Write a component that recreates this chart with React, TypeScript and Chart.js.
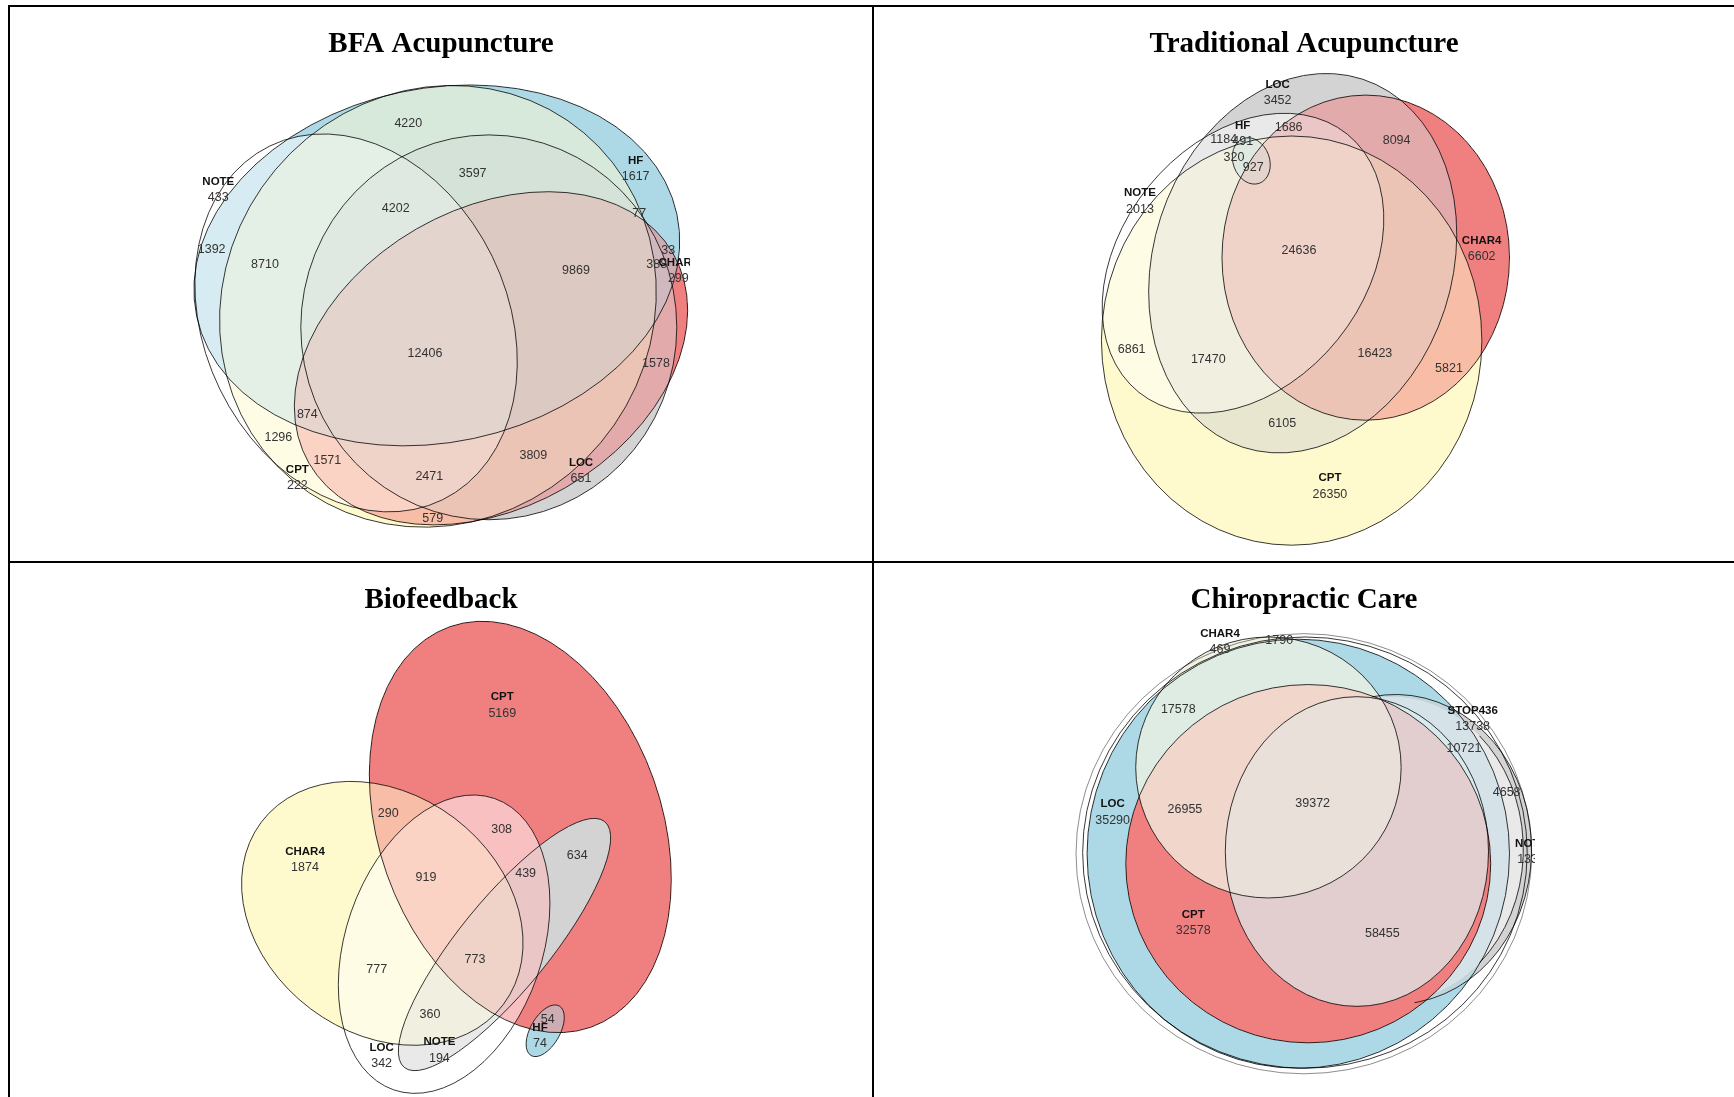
import React, { useEffect, useRef } from "react";
import { Chart, registerables } from "chart.js";
Chart.register(...registerables);

// scale between the measured reference units (1568 wide) and the page (1734 wide)
const K = 1734 / 1568;
const NUM_DY = 14.3;

// ---------------- BFA Acupuncture ----------------
const bfaSetNames = ["NOTE", "HF", "CHAR4", "LOC", "CPT"];
const bfaSetCounts = [433, 1617, 299, 651, 222];
const bfaSetX = [197.4, 574.8, 613.4, 525.4, 268.9];
const bfaSetY = [164.3, 145.3, 238.0, 418.4, 424.4];
const bfaRegionCounts = [4220, 4202, 1392, 8710, 3597, 77, 9869, 33, 388, 12406, 874, 1296, 1571, 2471, 579, 1578, 3809];
const bfaRegionX = [369.2, 357.8, 191.4, 239.6, 427.4, 578.1, 520.8, 604.3, 593.8, 384.3, 277.9, 251.7, 296.0, 388.2, 391.3, 593.2, 482.3];
const bfaRegionY = [111.5, 188.4, 226.0, 239.0, 156.7, 192.9, 244.8, 226.7, 239.6, 319.5, 375.3, 395.5, 416.9, 431.0, 468.7, 329.1, 412.3];

// ---------------- Traditional Acupuncture ----------------
const tradSetNames = ["LOC", "HF", "NOTE", "CHAR4", "CPT"];
const tradSetCounts = [3452, 491, 2013, 6602, 26350];
const tradSetX = [1155.3, 1123.7, 1030.8, 1339.8, 1202.6];
const tradSetY = [76.9, 114.0, 174.8, 217.6, 432.5];
const tradRegionCounts = [1184, 320, 927, 1686, 8094, 24636, 16423, 5821, 6861, 17470, 6105];
const tradRegionX = [1106.6, 1115.8, 1133.3, 1165.3, 1262.9, 1174.6, 1243.3, 1310.3, 1023.3, 1092.6, 1159.5];
const tradRegionY = [126.6, 142.3, 151.3, 115.1, 127.2, 226.7, 319.5, 333.0, 315.9, 324.9, 382.8];

// ---------------- Biofeedback ----------------
const bioSetNames = ["CPT", "CHAR4", "LOC", "NOTE", "HF"];
const bioSetCounts = [5169, 1874, 342, 194, 74];
const bioSetX = [454.2, 275.8, 345.1, 397.3, 488.3];
const bioSetY = [630.5, 770.1, 947.3, 942.5, 929.0];
const bioRegionCounts = [290, 308, 634, 919, 439, 773, 777, 360, 54];
const bioRegionX = [351.1, 453.6, 522.0, 385.2, 475.3, 429.5, 340.6, 388.8, 495.2];
const bioRegionY = [735.4, 749.9, 774.0, 793.6, 790.3, 867.5, 876.5, 917.2, 921.7];

// ---------------- Chiropractic Care ----------------
const chiroSetNames = ["CHAR4", "STOP436", "LOC", "NOTE", "CPT"];
const chiroSetCounts = [469, 13738, 35290, 1330, 32578];
const chiroSetX = [1103.2, 1331.7, 1006.1, 1384.5, 1079.0];
const chiroSetY = [572.7, 642.6, 727.3, 763.2, 827.4];
const chiroRegionCounts = [1790, 17578, 26955, 39372, 10721, 4658, 58455];
const chiroRegionX = [1156.8, 1065.5, 1071.5, 1187.0, 1323.8, 1362.4, 1250.0];
const chiroRegionY = [579.3, 642.0, 731.8, 727.0, 676.7, 716.8, 844.0];

// ---------------- styles ----------------
const BLUE = "#add8e6";
const RED = "#f08080";
const YELLOW = "#fffacd";
const GREY = "#d3d3d3";
const WHITE = "#ffffff";

type Shape = {
  cx: number; cy: number; rx: number; ry: number; rot: number;
  fill: string | null; weight?: number; reset?: boolean; minus?: number[];
  stroke?: string | null; arc?: [number, number];
};

const bfaShapes: Shape[] = [
  { cx: 322, cy: 292, rx: 178, ry: 137, rot: 64, fill: WHITE },
  { cx: 395, cy: 240, rx: 222, ry: 160, rot: -12, fill: BLUE },
  { cx: 444, cy: 324, rx: 190, ry: 135, rot: -30, fill: RED },
  { cx: 442, cy: 296, rx: 170, ry: 174, rot: 0, fill: GREY },
  { cx: 396, cy: 277, rx: 205, ry: 192, rot: -50, fill: YELLOW },
];

const tradShapes: Shape[] = [
  { cx: 1124, cy: 238, rx: 150, ry: 110, rot: -51, fill: WHITE },
  { cx: 1131.5, cy: 145.5, rx: 21.5, ry: 16.5, rot: 70, fill: BLUE },
  { cx: 1235, cy: 233, rx: 130, ry: 147, rot: 0, fill: RED },
  { cx: 1178, cy: 238, rx: 175, ry: 135, rot: -72, fill: GREY },
  { cx: 1168, cy: 308, rx: 172, ry: 185, rot: 0, fill: YELLOW },
];

const bioShapes: Shape[] = [
  { cx: 345.7, cy: 825.9, rx: 137, ry: 108, rot: 37, fill: YELLOW },
  { cx: 470.5, cy: 747.8, rx: 192, ry: 128, rot: 70.6, fill: RED },
  { cx: 401.6, cy: 853.8, rx: 139.4, ry: 89, rot: -70.9, fill: WHITE },
  { cx: 456.2, cy: 854.1, rx: 143.4, ry: 40.8, rot: -50.8, fill: GREY },
  { cx: 493, cy: 932.1, rx: 25.8, ry: 13.4, rot: -60.4, fill: BLUE },
  { cx: 456.2, cy: 854.1, rx: 143.4, ry: 40.8, rot: -50.8, fill: GREY, reset: true, minus: [2], stroke: null },
];

const chiroShapes: Shape[] = [
  { cx: 1179, cy: 772, rx: 206, ry: 199, rot: 0, fill: null, stroke: "rgba(0,0,0,0.45)" },
  { cx: 1180, cy: 771, rx: 201, ry: 195, rot: 0, fill: null },
  { cx: 1174, cy: 772, rx: 191, ry: 194, rot: 0, fill: BLUE, reset: true },
  { cx: 1262, cy: 768, rx: 123, ry: 140, rot: 0, fill: GREY, arc: [-100, 82] },
  { cx: 1258, cy: 768, rx: 119.5, ry: 138, rot: 0, fill: WHITE, arc: [-48, 48] },
  { cx: 1183, cy: 781, rx: 165, ry: 162, rot: 0, fill: RED, reset: true },
  { cx: 1227, cy: 770, rx: 119, ry: 140, rot: 0, fill: "#dbf3f6", weight: 2 },
  { cx: 1147, cy: 694, rx: 120, ry: 118, rot: 0, fill: "#f0f3e4", weight: 3 },
];

type PanelDef = {
  title: string;
  rect: [number, number, number, number];
  clipRight?: number;
  setNames: string[]; setCounts: number[]; setX: number[]; setY: number[];
  regionCounts: number[]; regionX: number[]; regionY: number[];
  shapes: Shape[];
};

const panels: PanelDef[] = [
  { title: "BFA Acupuncture", rect: [10, 7, 862, 554], clipRight: 624,
    setNames: bfaSetNames, setCounts: bfaSetCounts, setX: bfaSetX, setY: bfaSetY,
    regionCounts: bfaRegionCounts, regionX: bfaRegionX, regionY: bfaRegionY, shapes: bfaShapes },
  { title: "Traditional Acupuncture", rect: [874, 7, 860, 554],
    setNames: tradSetNames, setCounts: tradSetCounts, setX: tradSetX, setY: tradSetY,
    regionCounts: tradRegionCounts, regionX: tradRegionX, regionY: tradRegionY, shapes: tradShapes },
  { title: "Biofeedback", rect: [10, 563, 862, 534],
    setNames: bioSetNames, setCounts: bioSetCounts, setX: bioSetX, setY: bioSetY,
    regionCounts: bioRegionCounts, regionX: bioRegionX, regionY: bioRegionY, shapes: bioShapes },
  { title: "Chiropractic Care", rect: [874, 563, 860, 534], clipRight: 1388,
    setNames: chiroSetNames, setCounts: chiroSetCounts, setX: chiroSetX, setY: chiroSetY,
    regionCounts: chiroRegionCounts, regionX: chiroRegionX, regionY: chiroRegionY, shapes: chiroShapes },
];

const TITLE_SIZE = 29;
const TITLE_PAD_TOP = 19.9;
const TITLE_BLOCK = TITLE_PAD_TOP + TITLE_SIZE * 1.2;

function hexToRgb(h: string): [number, number, number] {
  const v = parseInt(h.slice(1), 16);
  return [(v >> 16) & 255, (v >> 8) & 255, v & 255];
}

function makeVennPlugin(p: PanelDef) {
  return {
    id: "venn",
    beforeDatasetsDraw(chart: any) {
      const { ctx, chartArea } = chart;
      const xs = chart.scales.x;
      const ys = chart.scales.y;
      const r = chart.currentDevicePixelRatio || 1;
      const rightPx = p.clipRight != null ? Math.min(chartArea.right, xs.getPixelForValue(p.clipRight)) : chartArea.right;
      const x0 = Math.floor(chartArea.left * r);
      const x1 = Math.ceil(rightPx * r);
      const y0 = Math.floor(chartArea.top * r);
      const y1 = Math.ceil(chartArea.bottom * r);
      const w = x1 - x0, h = y1 - y0;
      const S = p.shapes.map((s) => ({
        cx: s.cx, cy: s.cy,
        c: Math.cos((s.rot * Math.PI) / 180), s: Math.sin((s.rot * Math.PI) / 180),
        ia2: 1 / (s.rx * s.rx), ib2: 1 / (s.ry * s.ry),
        col: s.fill ? hexToRgb(s.fill) : null,
        wt: s.weight ?? 1, reset: !!s.reset, minus: s.minus || [],
      }));
      const n = S.length;
      const colVals = new Float64Array(w);
      for (let i = 0; i < w; i++) colVals[i] = xs.getValueForPixel((x0 + i + 0.5) / r);
      const rowVals = new Float64Array(h);
      for (let j = 0; j < h; j++) rowVals[j] = ys.getValueForPixel((y0 + j + 0.5) / r);
      const img = ctx.createImageData(w, h);
      const d = img.data;
      const ins = new Uint8Array(n);
      for (let j = 0; j < h; j++) {
        const yv = rowVals[j];
        for (let i = 0; i < w; i++) {
          const xv = colVals[i];
          for (let k = 0; k < n; k++) {
            const sh = S[k];
            const dx = xv - sh.cx, dy = yv - sh.cy;
            const u = dx * sh.c + dy * sh.s;
            const v = -dx * sh.s + dy * sh.c;
            ins[k] = u * u * sh.ia2 + v * v * sh.ib2 <= 1 ? 1 : 0;
          }
          let R = 0, G = 0, B = 0, W = 0;
          for (let k = 0; k < n; k++) {
            const sh = S[k];
            if (!ins[k] || !sh.col) continue;
            let skip = false;
            for (const m of sh.minus) if (ins[m]) skip = true;
            if (skip) continue;
            if (sh.reset) { R = 0; G = 0; B = 0; W = 0; }
            R += sh.col[0] * sh.wt; G += sh.col[1] * sh.wt; B += sh.col[2] * sh.wt; W += sh.wt;
          }
          if (W > 0) {
            const o = (j * w + i) * 4;
            d[o] = R / W; d[o + 1] = G / W; d[o + 2] = B / W; d[o + 3] = 255;
          }
        }
      }
      ctx.putImageData(img, x0, y0);

      const sx = Math.abs(xs.getPixelForValue(1) - xs.getPixelForValue(0));
      const sy = Math.abs(ys.getPixelForValue(1) - ys.getPixelForValue(0));
      ctx.save();
      ctx.beginPath();
      ctx.rect(chartArea.left, chartArea.top, rightPx - chartArea.left, chartArea.bottom - chartArea.top);
      ctx.clip();
      for (const s of p.shapes) {
        if (s.stroke === null) continue;
        const a0 = s.arc ? (s.arc[0] * Math.PI) / 180 : 0;
        const a1 = s.arc ? (s.arc[1] * Math.PI) / 180 : Math.PI * 2;
        ctx.beginPath();
        ctx.ellipse(xs.getPixelForValue(s.cx), ys.getPixelForValue(s.cy), s.rx * sx, s.ry * sy, (s.rot * Math.PI) / 180, a0, a1);
        ctx.strokeStyle = s.stroke || "rgba(0,0,0,0.78)";
        ctx.lineWidth = 1;
        ctx.stroke();
      }
      ctx.restore();
    },
    afterDatasetsDraw(chart: any) {
      const { ctx, chartArea } = chart;
      const xs = chart.scales.x;
      const ys = chart.scales.y;
      const rightPx = p.clipRight != null ? Math.min(chartArea.right, xs.getPixelForValue(p.clipRight)) : chartArea.right;
      ctx.save();
      ctx.beginPath();
      ctx.rect(chartArea.left, chartArea.top, rightPx - chartArea.left, chartArea.bottom - chartArea.top);
      ctx.clip();
      ctx.textAlign = "center";
      ctx.textBaseline = "middle";
      ctx.fillStyle = "#333";
      ctx.font = "12.5px 'Liberation Sans', Arial, sans-serif";
      p.regionCounts.forEach((c, i) => {
        ctx.fillText(String(c), xs.getPixelForValue(p.regionX[i]), ys.getPixelForValue(p.regionY[i]));
      });
      p.setCounts.forEach((c, i) => {
        ctx.fillText(String(c), xs.getPixelForValue(p.setX[i]), ys.getPixelForValue(p.setY[i] + NUM_DY));
      });
      ctx.fillStyle = "#111";
      ctx.font = "bold 11.5px 'Liberation Sans', Arial, sans-serif";
      p.setNames.forEach((s, i) => {
        ctx.fillText(s, xs.getPixelForValue(p.setX[i]), ys.getPixelForValue(p.setY[i]));
      });
      ctx.restore();
    },
  };
}

function Panel({ p }: { p: PanelDef }) {
  const ref = useRef<HTMLCanvasElement>(null);
  const [left, top, width, height] = p.rect;
  useEffect(() => {
    if (!ref.current) return;
    const points = [
      ...p.setX.map((x, i) => ({ x, y: p.setY[i] })),
      ...p.regionX.map((x, i) => ({ x, y: p.regionY[i] })),
    ];
    const chart = new Chart(ref.current, {
      type: "scatter",
      data: { datasets: [{ label: p.title, data: points, pointRadius: 0, pointHoverRadius: 0 }] },
      options: {
        animation: false,
        responsive: false,
        events: [],
        layout: { padding: 0 },
        scales: {
          x: { type: "linear", display: false, min: left / K, max: (left + width) / K },
          y: { type: "linear", display: false, reverse: true, min: (top + TITLE_BLOCK) / K, max: (top + height) / K },
        },
        plugins: {
          legend: { display: false },
          tooltip: { enabled: false },
          title: {
            display: true,
            text: p.title,
            color: "#000",
            font: { family: "'Liberation Serif', 'Times New Roman', serif", size: TITLE_SIZE, weight: "bold", lineHeight: 1.2 },
            padding: { top: TITLE_PAD_TOP, bottom: 0 },
          },
        },
      },
      plugins: [makeVennPlugin(p)],
    } as any);
    return () => chart.destroy();
  }, []);
  return (
    <canvas
      ref={ref}
      width={width}
      height={height}
      style={{ position: "absolute", left, top, width, height }}
    />
  );
}

const lineStyle = (l: number, t: number, w: number, h: number): React.CSSProperties => ({
  position: "absolute", left: l, top: t, width: w, height: h, background: "#000",
});

export default function App() {
  return (
    <div style={{ position: "absolute", left: 0, top: 0, width: 1734, height: 1097, background: "#fff", overflow: "hidden" }}>
      {panels.map((p) => (
        <Panel key={p.title} p={p} />
      ))}
      <div style={lineStyle(8, 5, 1726, 2)} />
      <div style={lineStyle(8, 5, 2, 1092)} />
      <div style={lineStyle(872, 5, 2, 1092)} />
      <div style={lineStyle(8, 561, 1726, 2)} />
    </div>
  );
}
